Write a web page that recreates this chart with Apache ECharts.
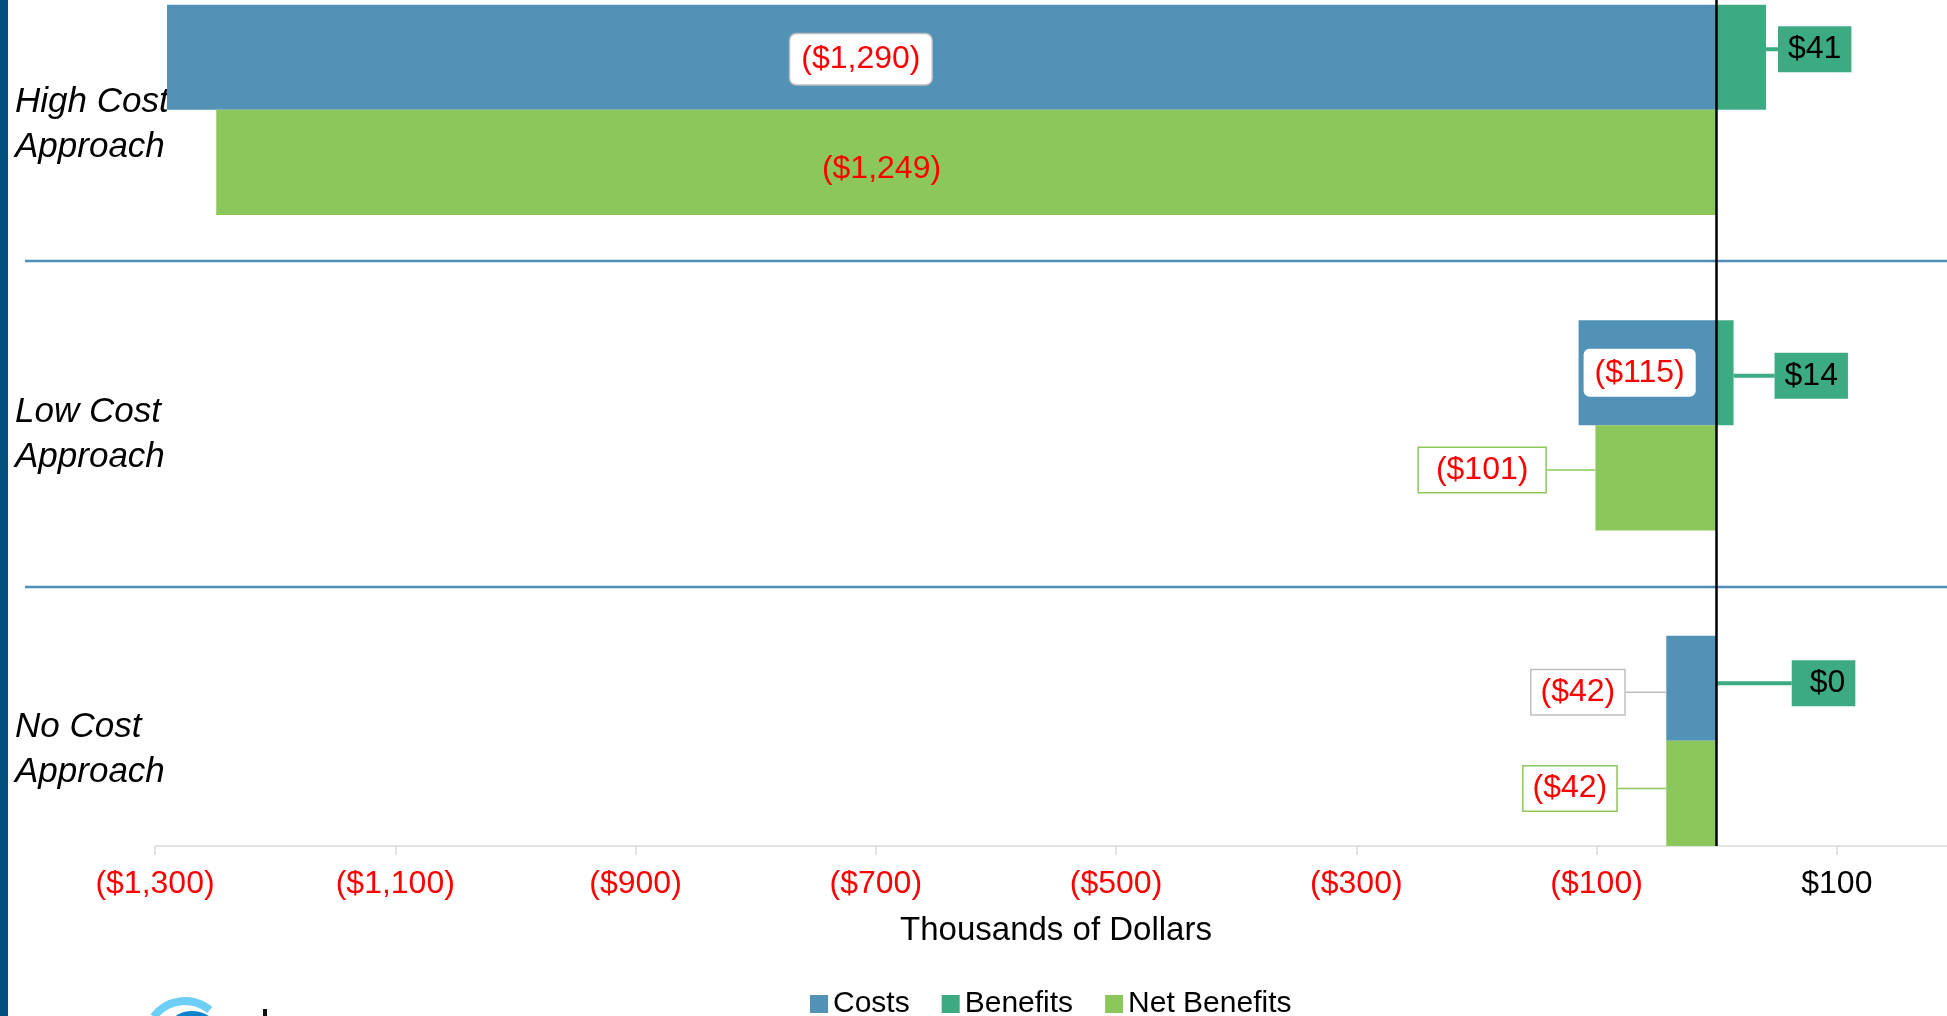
<!DOCTYPE html>
<html>
<head>
<meta charset="utf-8">
<title>Costs and Benefits by Approach</title>
<script src="https://cdn.jsdelivr.net/npm/echarts@6/dist/echarts.min.js"></script>
<style>
  html, body { margin: 0; padding: 0; background: #fff; }
  #chart { width: 1947px; height: 1016px; }
</style>
</head>
<body>
<div id="chart"></div>
<script>
// chart values (thousands of dollars)
const categories = ['High Cost\nApproach', 'Low Cost\nApproach', 'No Cost\nApproach'];
const costs = [-1290, -115, -42];
const benefits = [41, 14, 0];
const netBenefits = [-1249, -101, -42];
const tickValues = [-1300, -1100, -900, -700, -500, -300, -100, 100];

const FONT = '"Liberation Sans", Arial, sans-serif';
const RED = '#ff0000';
const C_COSTS = '#5192b6';
const C_BENEFITS = '#3cab82';
const C_NET = '#8bc75b';

function money(v) {
  const s = '$' + String(Math.abs(v)).replace(/\B(?=(\d{3})+(?!\d))/g, ',');
  return v < 0 ? '(' + s + ')' : s;
}

// label look for each bar; the callouts were hand placed in the original,
// so each one also gets a nudge (dx, dy) applied through labelLayout
const costsLabelStyle = [
  { position: 'inside', backgroundColor: '#fff', borderColor: '#bdbdbd', borderWidth: 1.5, borderRadius: 6, padding: [9, 11] },
  { position: 'inside', backgroundColor: '#fff', borderRadius: 6, padding: [8, 11] },
  { position: 'left', backgroundColor: '#fff', borderColor: '#bfbfbf', borderWidth: 1.5, padding: [6, 9] }
];
const costsNudge = [[-81, 2], [-8, 0], [-37, 4]];
const benefitsLabelStyle = [
  { position: 'right', backgroundColor: C_BENEFITS, padding: [7, 10] },
  { position: 'right', backgroundColor: C_BENEFITS, padding: [7, 10] },
  { position: 'right', backgroundColor: C_BENEFITS, padding: [7, 10, 7, 18] }
];
const benefitsNudge = [[7, -8], [36, 3], [70, -5]];
const netLabelStyle = [
  { position: 'inside' },
  { position: 'left', backgroundColor: '#fff', borderColor: C_NET, borderWidth: 1.5, padding: [6, 17] },
  { position: 'left', backgroundColor: '#fff', borderColor: C_NET, borderWidth: 1.5, padding: [6, 9] }
];
const netNudge = [[-85, 7], [-45, -8], [-45, -5]];
// space above each category name (pushes it down inside its band)
const nameGapAbove = [136, 124, 124];

function itemsOf(values, styles) {
  // callouts keep the series label line, inside labels switch it off
  return values.map((v, i) => {
    const item = { value: v, label: styles[i] };
    if (styles[i].position === 'inside') item.labelLine = { show: false };
    return item;
  });
}
const nudge = table => p => ({ dx: table[p.dataIndex][0], dy: table[p.dataIndex][1] });

const chart = echarts.init(document.getElementById('chart'));

const option = {
  animation: false,
  textStyle: { fontFamily: FONT },
  grid: { left: 155, right: -10, top: -100.5, bottom: 170, containLabel: false, outerBoundsMode: 'none' },
  legend: {
    data: ['Costs', 'Benefits', 'Net Benefits'],
    left: 805,
    top: 984,
    icon: 'rect',
    itemWidth: 18,
    itemHeight: 18,
    itemGap: 32,
    textStyle: { fontSize: 30, color: '#000', fontFamily: FONT }
  },
  xAxis: {
    type: 'value',
    min: -1300,
    max: 200,
    name: 'Thousands of Dollars',
    nameLocation: 'middle',
    nameGap: 68,
    nameTextStyle: { fontSize: 33, color: '#000', fontFamily: FONT },
    axisLine: { show: true, lineStyle: { color: '#d9d9d9', width: 1.5 } },
    axisTick: { show: true, length: 9, customValues: tickValues, lineStyle: { color: '#d9d9d9', width: 1.5 } },
    axisLabel: {
      customValues: tickValues,
      margin: 22,
      fontSize: 32,
      fontFamily: FONT,
      formatter: v => money(Number(v)),
      color: v => (Number(v) < 0 ? RED : '#000')
    },
    splitLine: { show: false }
  },
  yAxis: {
    type: 'category',
    data: categories,
    inverse: true,
    axisLine: { show: false },
    axisTick: { show: false },
    splitLine: { show: false },
    axisLabel: {
      align: 'left',
      margin: 140,
      fontSize: 35,
      fontStyle: 'italic',
      fontFamily: FONT,
      color: '#000',
      lineHeight: 45,
      formatter: (v, i) => '{g' + i + '| }\n' + v,
      rich: {
        g0: { height: nameGapAbove[0], lineHeight: nameGapAbove[0], fontSize: 10 },
        g1: { height: nameGapAbove[1], lineHeight: nameGapAbove[1], fontSize: 10 },
        g2: { height: nameGapAbove[2], lineHeight: nameGapAbove[2], fontSize: 10 }
      }
    }
  },
  series: [
    {
      // empty slot above each pair of bars
      name: '_spacer',
      type: 'bar',
      data: [],
      silent: true,
      barGap: 0,
      barCategoryGap: 0
    },
    {
      name: 'Costs',
      type: 'bar',
      stack: 'cb',
      stackStrategy: 'positive',
      barGap: 0,
      barCategoryGap: 0,
      itemStyle: { color: C_COSTS },
      label: { show: true, fontSize: 32, color: RED, fontFamily: FONT, formatter: p => money(p.value) },
      labelLine: { show: true, length2: 0, lineStyle: { color: '#bfbfbf', width: 1.5 } },
      labelLayout: nudge(costsNudge),
      data: itemsOf(costs, costsLabelStyle)
    },
    {
      name: 'Benefits',
      type: 'bar',
      stack: 'cb',
      stackStrategy: 'positive',
      barGap: 0,
      barCategoryGap: 0,
      itemStyle: { color: C_BENEFITS },
      label: { show: true, fontSize: 32, color: '#000', fontFamily: FONT, formatter: p => money(p.value) },
      labelLine: { show: true, length2: 0, lineStyle: { color: C_BENEFITS, width: 4 } },
      labelLayout: nudge(benefitsNudge),
      data: itemsOf(benefits, benefitsLabelStyle)
    },
    {
      name: 'Net Benefits',
      type: 'bar',
      barGap: 0,
      barCategoryGap: 0,
      itemStyle: { color: C_NET },
      label: { show: true, fontSize: 32, color: RED, fontFamily: FONT, formatter: p => money(p.value) },
      labelLine: { show: true, length2: 0, lineStyle: { color: C_NET, width: 1.5 } },
      labelLayout: nudge(netNudge),
      data: itemsOf(netBenefits, netLabelStyle),
      markLine: {
        silent: true,
        symbol: 'none',
        label: { show: false },
        lineStyle: { color: '#000', width: 2.5, type: 'solid' },
        data: [{ xAxis: 0 }]
      }
    }
  ],
  graphic: [
    // dark band on the left edge
    { type: 'rect', shape: { x: 0, y: 0, width: 8, height: 1016 }, style: { fill: '#03507e' }, z: 10 },
    // separators between the approaches
    { type: 'line', shape: { x1: 25, y1: 261, x2: 1947, y2: 261 }, style: { stroke: '#4f8fba', lineWidth: 2.5 }, z: 0 },
    { type: 'line', shape: { x1: 25, y1: 587, x2: 1947, y2: 587 }, style: { stroke: '#4f8fba', lineWidth: 2.5 }, z: 0 },
    // clipped logo at the bottom left
    { type: 'sector', shape: { cx: 185, cy: 1040, r: 43, r0: 35, startAngle: -2.5, endAngle: -0.88, clockwise: true }, style: { fill: '#6dcff6' } },
    { type: 'sector', shape: { cx: 192, cy: 1042, r: 31, r0: 22, startAngle: -2.1, endAngle: -0.95, clockwise: true }, style: { fill: '#0a85cc' } },
    { type: 'rect', shape: { x: 263, y: 1009, width: 4, height: 7 }, style: { fill: '#111' } }
  ]
};

chart.setOption(option);
window.addEventListener('resize', () => chart.resize());
</script>
</body>
</html>
